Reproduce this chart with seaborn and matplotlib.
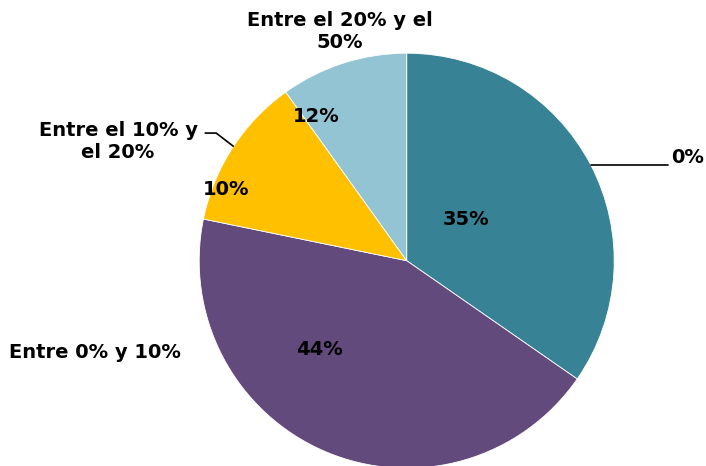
"""Pie chart: distribution of responses by range (recreated with seaborn styling)."""
import matplotlib
matplotlib.use("Agg")
import matplotlib.pyplot as plt
import seaborn as sns

# data
categories = ["0%", "Entre 0% y 10%", "Entre el 10% y\nel 20%", "Entre el 20% y el\n50%"]
shares = [35, 44, 12, 10]
pct_text = ["35%", "44%", "10%", "12%"]
colors = ["#388296", "#624B7C", "#FFC000", "#93C4D4"]

W, H = 706, 466
CX, CY, R = 406.7, 260.7, 207.5  # pie centre / radius in pixels


def main() -> None:
    sns.set_theme(style="white")
    plt.rcParams["font.family"] = ["DejaVu Sans"]

    fig = plt.figure(figsize=(W / 100, H / 100), dpi=100)
    ax = fig.add_axes([0, 0, 1, 1])
    ax.pie(shares, colors=colors, startangle=90, counterclock=False,
           radius=1.0, wedgeprops=dict(edgecolor="white", linewidth=0.6))
    ax.set_xlim(-CX / R, (W - CX) / R)
    ax.set_ylim(-(H - CY) / R, CY / R)
    ax.set_aspect("auto")
    ax.axis("off")

    # percentage labels inside the slices
    pct_pos = [(0.287, 0.200), (-0.422, -0.427), (-0.870, 0.345), (-0.436, 0.696)]
    for txt, (x, y) in zip(pct_text, pct_pos):
        ax.text(x, y, txt, ha="center", va="center", fontsize=14,
                fontweight="heavy", color="black")

    # category labels
    cat_pos = [(1.274, 0.495, "left"), (-1.502, -0.444, "center"),
               (-1.391, 0.574, "center"), (-0.321, 1.105, "center")]
    for txt, (x, y, ha) in zip(categories, cat_pos):
        ax.text(x, y, txt, ha=ha, va="center", fontsize=14,
                fontweight="bold", color="black", multialignment="center",
                linespacing=1.15)

    # leader lines
    ax.plot([0.886, 1.260], [0.463, 0.463], color="black", lw=1.2)
    ax.plot([-0.971, -0.918, -0.836], [0.615, 0.615, 0.552], color="black", lw=1.2)

    fig.savefig("out.png", dpi=100)
    plt.close(fig)


if __name__ == "__main__":
    main()
